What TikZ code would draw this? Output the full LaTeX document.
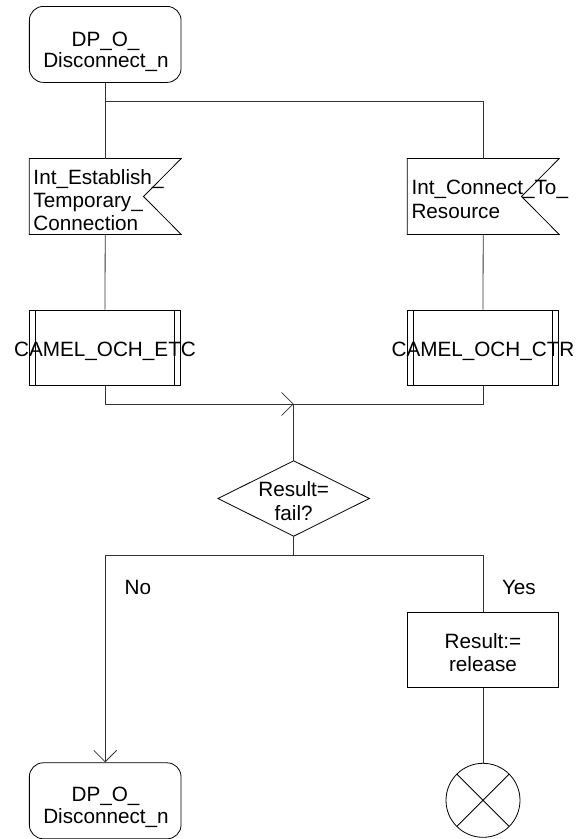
\documentclass[tikz,border=0pt]{standalone}
\usepackage{fontspec}
\setmainfont{Liberation Sans}
\usetikzlibrary{calc,arrows.meta}
\tikzset{
  shp/.style={draw=black, line width=0.8pt},
  conn/.style={draw=black!80, line width=0.8pt},
  arr/.style={-{Straight Barb[length=11.5pt,width=23pt,line width=0.8pt]}},
  statebox/.style={shp, rectangle, rounded corners=14pt, minimum width=151.7pt, minimum height=76pt, inner sep=0pt},
  sigbox/.style={rectangle, minimum width=151.7pt, minimum height=75.6pt, inner sep=0pt},
  procbox/.style={shp, rectangle, minimum width=151pt, minimum height=75.4pt, inner sep=0pt},
  decbox/.style={rectangle, minimum width=151pt, minimum height=75pt, inner sep=0pt},
  stopc/.style={shp, circle, minimum size=74pt, inner sep=0pt},
  lbl/.style={inner sep=0pt, font=\fontsize{20.7}{23}\selectfont},
}
\begin{document}
\begin{tikzpicture}[x=1pt,y=-1pt]
\useasboundingbox (0,0) rectangle (578,839);

% shapes
\node[statebox] (s1) at (105.2,44.4) {};
\node[sigbox] (sig1) at (105.2,196.5) {};
\node[sigbox] (sig2) at (483.2,196.5) {};
\node[procbox] (p1) at (105,347.7) {};
\node[procbox] (p2) at (483,347.7) {};
\coordinate (j) at (105.2,101);
\coordinate (m) at (293.7,404);
\node[decbox] (dec) at (293.7,498.5) {};
\coordinate (sp) at (293.7,555);
\node[procbox] (res) at (483,650) {};
\node[stopc] (stop) at (483,800.3) {};
\node[statebox] (s2) at (105.2,800.8) {};

% signal outlines
\draw[shp] (sig1.north west) -- (sig1.north east) -- ($(sig1.east)+(-37.7,0)$) -- (sig1.south east) -- (sig1.south west) -- cycle;
\draw[shp] (sig2.north west) -- (sig2.north east) -- ($(sig2.east)+(-37.7,0)$) -- (sig2.south east) -- (sig2.south west) -- cycle;
% procedure inner bars
\foreach \p in {p1,p2}{
  \draw[shp] ($(\p.north west)+(6.2,0)$) -- ($(\p.south west)+(6.2,0)$);
  \draw[shp] ($(\p.north east)+(-6.2,0)$) -- ($(\p.south east)+(-6.2,0)$);
}
% decision
\draw[shp] (dec.north) -- (dec.east) -- (dec.south) -- (dec.west) -- cycle;
% stop cross
\draw[shp] ($(stop.center)+(-26.2,-26.2)$) -- ($(stop.center)+(26.2,26.2)$);
\draw[shp] ($(stop.center)+(-26.2,26.2)$) -- ($(stop.center)+(26.2,-26.2)$);

% texts
\node[lbl,anchor=base] (s1a) at (105.5,46.7) {DP\_O\_};
\node[lbl,anchor=base] (s1b) at (106,67.7) {Disconnect\_n};
\node[lbl,anchor=base west] (g1a) at (33.3,184.5) {Int\_Establish\_};
\node[lbl,anchor=base west] (g1b) at (33.3,207.5) {Temporary\_};
\node[lbl,anchor=base west] (g1c) at (33.3,230.8) {Connection};
\node[lbl,anchor=base west] (g2a) at (411.3,194.3) {Int\_Connect\_To\_};
\node[lbl,anchor=base west] (g2b) at (411.3,218.3) {Resource};
\node[lbl,anchor=base] (p1t) at (105,356) {CAMEL\_OCH\_ETC};
\node[lbl,anchor=base] (p2t) at (483,356) {CAMEL\_OCH\_CTR};
\node[lbl,anchor=base] (da) at (293.7,496.7) {Result=};
\node[lbl,anchor=base] (db) at (293.7,520) {fail?};
\node[lbl,anchor=base west] (no) at (124.5,594) {No};
\node[lbl,anchor=base west] (yes) at (501.8,594) {Yes};
\node[lbl,anchor=base] (ra) at (483,648.3) {Result:=};
\node[lbl,anchor=base] (rb) at (483,671.7) {release};
\node[lbl,anchor=base] (s2a) at (105.5,801.7) {DP\_O\_};
\node[lbl,anchor=base] (s2b) at (106,823.3) {Disconnect\_n};

% connectors
\draw[conn] (s1.south) -- (sig1.north);
\draw[conn] (j) -| (sig2.north);
\draw[conn] (sig1.south) -- (p1.north);
\draw[conn] (sig2.south) -- (p2.north);
\draw[conn,arr] (p1.south) |- (m);
\draw[conn] (p2.south) |- (m);
\draw[conn] (m) -- (dec.north);
\draw[conn] (dec.south) -- (sp);
\draw[conn,arr] (sp) -| (s2.north);
\draw[conn] (sp) -| (res.north);
\draw[conn] (res.south) -- (stop.north);
\end{tikzpicture}
\end{document}
